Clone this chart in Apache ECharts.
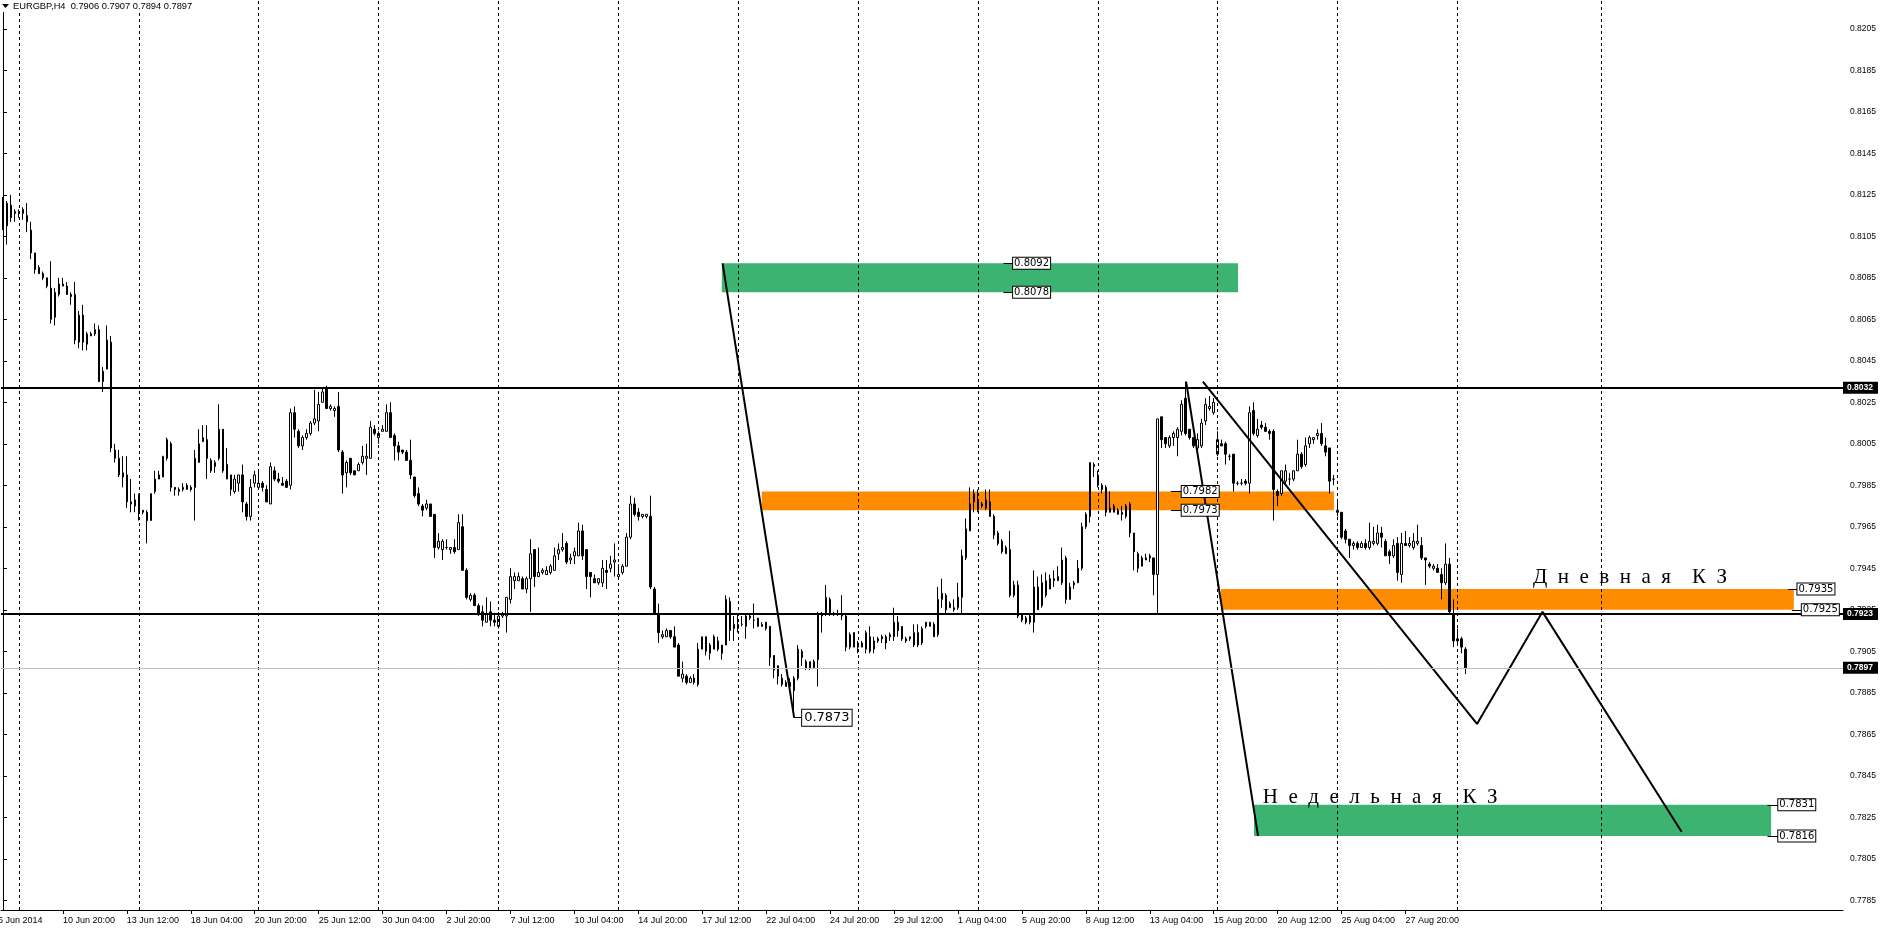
<!DOCTYPE html>
<html>
<head>
<meta charset="utf-8">
<title>EURGBP,H4</title>
<script src="https://cdn.jsdelivr.net/npm/echarts@6.0.0/dist/echarts.min.js"></script>
<style>
  html, body { margin: 0; padding: 0; background: #fff; }
  #chart { width: 1885px; height: 932px; }
</style>
</head>
<body>
<div id="chart"></div>
<script>
// ---- data ----
const symbolName = 'EURGBP,H4';
const firstBar = Date.UTC(2014, 5, 6, 8, 0);   // first visible H4 bar
const slots = 461;                              // bar slots in the window (incl. empty future)

// H4 bars per trading week, [open, high, low, close]
const wkJun06 = [
  [0.8122,0.8124,0.8108,0.8111],[0.8110,0.8122,0.8101,0.8121],[0.8120,0.8125,0.8112,0.8114],[0.8116,0.8118,0.8112,0.8117]
];
const wkJun09 = [
  [0.8116,0.8118,0.8114,0.8117],[0.8116,0.8119,0.8113,0.8118],[0.8115,0.8121,0.8107,0.8112],[0.8108,0.8112,0.8094,0.8097],
  [0.8097,0.8097,0.8087,0.8089],[0.8090,0.8091,0.8087,0.8087],[0.8087,0.8088,0.8084,0.8085],[0.8085,0.8085,0.8080,0.8081],
  [0.8080,0.8093,0.8063,0.8065],[0.8066,0.8080,0.8062,0.8078],[0.8077,0.8085,0.8076,0.8082],[0.8081,0.8085,0.8081,0.8082],
  [0.8081,0.8083,0.8077,0.8077],[0.8077,0.8078,0.8072,0.8076],[0.8077,0.8083,0.8053,0.8055],[0.8054,0.8069,0.8051,0.8067],
  [0.8067,0.8072,0.8050,0.8054],[0.8053,0.8059,0.8050,0.8058],[0.8057,0.8059,0.8057,0.8058],[0.8060,0.8063,0.8057,0.8058],
  [0.8060,0.8062,0.8035,0.8035],[0.8035,0.8042,0.8030,0.8040],[0.8041,0.8062,0.8041,0.8055],[0.8054,0.8057,0.8001,0.8003],
  [0.8002,0.8005,0.7996,0.7998],[0.7998,0.8002,0.7989,0.7990],[0.7991,0.7999,0.7984,0.7989],[0.7990,0.7999,0.7974,0.7977],
  [0.7976,0.7988,0.7972,0.7977],[0.7975,0.7981,0.7972,0.7978]
];
const wkJun16 = [
  [0.7980,0.7981,0.7968,0.7972],[0.7972,0.7973,0.7971,0.7973],[0.7972,0.7973,0.7957,0.7968],[0.7968,0.7981,0.7968,0.7981],
  [0.7982,0.7992,0.7981,0.7988],[0.7988,0.7992,0.7988,0.7990],[0.7989,0.7999,0.7989,0.7999],[0.7998,0.8008,0.7997,0.8007],
  [0.8005,0.8006,0.7982,0.7984],[0.7984,0.7984,0.7980,0.7983],[0.7982,0.7984,0.7980,0.7983],[0.7983,0.7986,0.7982,0.7984],
  [0.7985,0.7986,0.7983,0.7983],[0.7984,0.7985,0.7982,0.7983],[0.7984,0.8002,0.7968,0.7998],[0.7996,0.8012,0.7996,0.8005],
  [0.8006,0.8014,0.8006,0.8008],[0.8007,0.8014,0.7988,0.7998],[0.7997,0.7998,0.7991,0.7992],[0.7994,0.7997,0.7991,0.7996],
  [0.7998,0.8024,0.7997,0.8012],[0.8012,0.8012,0.7991,0.7992],[0.7995,0.8003,0.7988,0.7988],[0.7990,0.7990,0.7980,0.7983],
  [0.7982,0.7990,0.7981,0.7988],[0.7986,0.7990,0.7982,0.7990],[0.7990,0.7995,0.7972,0.7977],[0.7976,0.7977,0.7968,0.7970],
  [0.7970,0.7988,0.7968,0.7984],[0.7986,0.7992,0.7984,0.7990]
];
const wkJun23 = [
  [0.7984,0.7992,0.7984,0.7986],[0.7986,0.7987,0.7982,0.7984],[0.7983,0.7985,0.7977,0.7977],[0.7976,0.7996,0.7976,0.7994],
  [0.7992,0.7994,0.7987,0.7988],[0.7988,0.7991,0.7986,0.7987],[0.7986,0.7989,0.7985,0.7985],[0.7987,0.7988,0.7984,0.7984],
  [0.7985,0.8022,0.7983,0.8020],[0.8020,0.8023,0.8008,0.8012],[0.8011,0.8012,0.8003,0.8004],[0.8004,0.8009,0.8002,0.8008],
  [0.8008,0.8012,0.8007,0.8010],[0.8010,0.8016,0.8009,0.8015],[0.8015,0.8031,0.8014,0.8017],[0.8016,0.8030,0.8011,0.8024],
  [0.8025,0.8032,0.8025,0.8030],[0.8032,0.8033,0.8022,0.8022],[0.8022,0.8024,0.8021,0.8023],[0.8021,0.8023,0.8018,0.8022],
  [0.8023,0.8030,0.8001,0.8002],[0.8001,0.8002,0.7981,0.7990],[0.7991,0.7997,0.7984,0.7996],[0.7998,0.7998,0.7990,0.7991],
  [0.7992,0.7992,0.7990,0.7990],[0.7992,0.7996,0.7992,0.7995],[0.7996,0.8004,0.7995,0.7999],[0.7998,0.8005,0.7990,0.7999],
  [0.7998,0.8016,0.7998,0.8013],[0.8012,0.8014,0.8009,0.8010]
];
const wkJun30 = [
  [0.8008,0.8011,0.8005,0.8010],[0.8011,0.8014,0.8011,0.8012],[0.8011,0.8024,0.8011,0.8020],[0.8020,0.8025,0.8008,0.8008],
  [0.8009,0.8010,0.7997,0.8004],[0.8004,0.8006,0.7997,0.8001],[0.8002,0.8002,0.8000,0.8001],[0.8001,0.8002,0.7997,0.7997],
  [0.7997,0.8007,0.7988,0.7990],[0.7989,0.7989,0.7979,0.7980],[0.7981,0.7984,0.7975,0.7976],[0.7975,0.7976,0.7970,0.7973],
  [0.7974,0.7978,0.7973,0.7976],[0.7976,0.7976,0.7970,0.7970],[0.7971,0.7971,0.7950,0.7955],[0.7955,0.7962,0.7954,0.7958],
  [0.7954,0.7959,0.7949,0.7958],[0.7955,0.7959,0.7954,0.7955],[0.7954,0.7955,0.7952,0.7955],[0.7955,0.7959,0.7952,0.7953],
  [0.7954,0.7971,0.7954,0.7967],[0.7965,0.7971,0.7944,0.7944],[0.7944,0.7945,0.7930,0.7931],[0.7930,0.7933,0.7929,0.7932],
  [0.7932,0.7933,0.7927,0.7927],[0.7927,0.7928,0.7922,0.7923],[0.7924,0.7927,0.7917,0.7920],[0.7919,0.7931,0.7919,0.7923],
  [0.7924,0.7929,0.7917,0.7920],[0.7920,0.7923,0.7917,0.7919]
];
const wkJul07 = [
  [0.7917,0.7924,0.7916,0.7922],[0.7922,0.7924,0.7921,0.7923],[0.7922,0.7931,0.7914,0.7931],[0.7930,0.7945,0.7928,0.7941],
  [0.7939,0.7943,0.7935,0.7941],[0.7939,0.7943,0.7939,0.7941],[0.7940,0.7941,0.7935,0.7935],[0.7935,0.7941,0.7933,0.7940],
  [0.7940,0.7959,0.7924,0.7952],[0.7954,0.7954,0.7936,0.7941],[0.7941,0.7955,0.7941,0.7943],[0.7943,0.7945,0.7942,0.7944],
  [0.7942,0.7946,0.7942,0.7944],[0.7943,0.7947,0.7942,0.7946],[0.7944,0.7955,0.7944,0.7951],[0.7952,0.7957,0.7949,0.7954],
  [0.7954,0.7962,0.7953,0.7955],[0.7957,0.7958,0.7947,0.7948],[0.7949,0.7952,0.7947,0.7950],[0.7951,0.7955,0.7947,0.7953],
  [0.7951,0.7967,0.7951,0.7963],[0.7963,0.7966,0.7949,0.7951],[0.7954,0.7954,0.7935,0.7941],[0.7943,0.7943,0.7931,0.7941],
  [0.7940,0.7942,0.7938,0.7938],[0.7938,0.7940,0.7937,0.7940],[0.7938,0.7949,0.7936,0.7945],[0.7944,0.7949,0.7935,0.7943],
  [0.7945,0.7951,0.7943,0.7947],[0.7948,0.7957,0.7941,0.7949]
];
const wkJul14 = [
  [0.7941,0.7947,0.7941,0.7942],[0.7943,0.7947,0.7942,0.7946],[0.7946,0.7962,0.7946,0.7960],[0.7960,0.7980,0.7959,0.7976],
  [0.7976,0.7979,0.7970,0.7971],[0.7972,0.7974,0.7968,0.7970],[0.7970,0.7971,0.7969,0.7971],[0.7970,0.7971,0.7969,0.7971],
  [0.7970,0.7980,0.7935,0.7936],[0.7935,0.7936,0.7923,0.7923],[0.7923,0.7928,0.7909,0.7914],[0.7912,0.7915,0.7911,0.7913],
  [0.7912,0.7916,0.7912,0.7915],[0.7915,0.7915,0.7911,0.7912],[0.7912,0.7917,0.7907,0.7907],[0.7908,0.7909,0.7893,0.7893],
  [0.7892,0.7900,0.7890,0.7894],[0.7893,0.7894,0.7889,0.7890],[0.7890,0.7893,0.7890,0.7892],[0.7892,0.7894,0.7889,0.7890],
  [0.7889,0.7909,0.7888,0.7906],[0.7906,0.7912,0.7906,0.7912],[0.7912,0.7912,0.7903,0.7905],[0.7904,0.7909,0.7901,0.7908],
  [0.7906,0.7913,0.7906,0.7912],[0.7910,0.7912,0.7905,0.7906],[0.7904,0.7908,0.7901,0.7908],[0.7908,0.7932,0.7908,0.7930],
  [0.7929,0.7931,0.7910,0.7915],[0.7916,0.7922,0.7910,0.7918]
];
const wkJul21 = [
  [0.7916,0.7923,0.7914,0.7918],[0.7918,0.7922,0.7917,0.7918],[0.7917,0.7923,0.7911,0.7922],[0.7921,0.7923,0.7920,0.7922],
  [0.7920,0.7928,0.7916,0.7920],[0.7921,0.7921,0.7917,0.7917],[0.7917,0.7919,0.7917,0.7918],[0.7919,0.7919,0.7915,0.7916],
  [0.7917,0.7917,0.7898,0.7902],[0.7903,0.7903,0.7892,0.7896],[0.7898,0.7898,0.7889,0.7893],[0.7892,0.7894,0.7888,0.7889],
  [0.7888,0.7891,0.7888,0.7890],[0.7890,0.7892,0.7886,0.7888],[0.7886,0.7893,0.7873,0.7892],[0.7892,0.7908,0.7891,0.7906],
  [0.7905,0.7906,0.7898,0.7902],[0.7897,0.7901,0.7896,0.7900],[0.7897,0.7900,0.7896,0.7900],[0.7897,0.7901,0.7897,0.7900],
  [0.7901,0.7924,0.7888,0.7923],[0.7922,0.7924,0.7914,0.7923],[0.7923,0.7937,0.7922,0.7931],[0.7930,0.7931,0.7922,0.7923],
  [0.7923,0.7924,0.7922,0.7923],[0.7923,0.7925,0.7922,0.7923],[0.7923,0.7932,0.7920,0.7922],[0.7922,0.7923,0.7905,0.7907],
  [0.7907,0.7914,0.7906,0.7913],[0.7914,0.7914,0.7907,0.7907]
];
const wkJul28 = [
  [0.7907,0.7910,0.7904,0.7909],[0.7907,0.7910,0.7907,0.7909],[0.7906,0.7915,0.7904,0.7914],[0.7912,0.7917,0.7904,0.7905],
  [0.7906,0.7912,0.7904,0.7910],[0.7910,0.7912,0.7909,0.7911],[0.7911,0.7913,0.7909,0.7912],[0.7909,0.7913,0.7906,0.7912],
  [0.7912,0.7914,0.7910,0.7913],[0.7912,0.7926,0.7910,0.7919],[0.7919,0.7922,0.7912,0.7915],[0.7917,0.7917,0.7910,0.7911],
  [0.7911,0.7912,0.7909,0.7910],[0.7911,0.7912,0.7910,0.7912],[0.7908,0.7918,0.7907,0.7914],[0.7914,0.7918,0.7907,0.7908],
  [0.7909,0.7917,0.7908,0.7916],[0.7917,0.7919,0.7916,0.7919],[0.7917,0.7919,0.7917,0.7919],[0.7918,0.7919,0.7912,0.7912],
  [0.7913,0.7936,0.7912,0.7930],[0.7930,0.7940,0.7926,0.7933],[0.7932,0.7933,0.7923,0.7925],[0.7926,0.7929,0.7926,0.7928],
  [0.7925,0.7930,0.7924,0.7926],[0.7926,0.7938,0.7925,0.7931],[0.7931,0.7954,0.7923,0.7951],[0.7950,0.7969,0.7949,0.7964],
  [0.7963,0.7984,0.7963,0.7976],[0.7977,0.7983,0.7972,0.7981]
];
const wkAug04 = [
  [0.7973,0.7983,0.7972,0.7977],[0.7976,0.7977,0.7974,0.7975],[0.7974,0.7983,0.7973,0.7978],[0.7977,0.7983,0.7970,0.7970],
  [0.7970,0.7971,0.7959,0.7961],[0.7962,0.7963,0.7956,0.7957],[0.7958,0.7959,0.7952,0.7953],[0.7952,0.7956,0.7952,0.7955],
  [0.7954,0.7963,0.7931,0.7932],[0.7932,0.7939,0.7931,0.7937],[0.7937,0.7939,0.7921,0.7922],[0.7923,0.7923,0.7919,0.7920],
  [0.7921,0.7922,0.7918,0.7919],[0.7919,0.7923,0.7918,0.7922],[0.7919,0.7944,0.7914,0.7936],[0.7936,0.7941,0.7925,0.7925],
  [0.7927,0.7942,0.7926,0.7938],[0.7932,0.7943,0.7931,0.7939],[0.7935,0.7942,0.7935,0.7940],[0.7939,0.7944,0.7936,0.7940],
  [0.7939,0.7946,0.7939,0.7941],[0.7938,0.7955,0.7937,0.7949],[0.7950,0.7951,0.7928,0.7930],[0.7930,0.7938,0.7930,0.7936],
  [0.7937,0.7939,0.7935,0.7938],[0.7938,0.7949,0.7938,0.7945],[0.7945,0.7967,0.7944,0.7965],[0.7965,0.7972,0.7964,0.7971],
  [0.7970,0.7996,0.7967,0.7996],[0.7994,0.7996,0.7989,0.7995]
];
const wkAug11 = [
  [0.7990,0.7992,0.7984,0.7985],[0.7985,0.7986,0.7981,0.7983],[0.7984,0.7985,0.7970,0.7972],[0.7974,0.7982,0.7972,0.7972],
  [0.7972,0.7976,0.7972,0.7975],[0.7973,0.7974,0.7971,0.7971],[0.7971,0.7975,0.7968,0.7972],[0.7970,0.7976,0.7969,0.7975],
  [0.7976,0.7977,0.7960,0.7962],[0.7962,0.7962,0.7944,0.7953],[0.7952,0.7953,0.7943,0.7945],[0.7946,0.7951,0.7946,0.7950],
  [0.7950,0.7952,0.7949,0.7949],[0.7950,0.7952,0.7948,0.7951],[0.7950,0.7950,0.7932,0.7942],[0.7942,0.8017,0.7923,0.8017],
  [0.8018,0.8018,0.8003,0.8007],[0.8008,0.8008,0.8003,0.8005],[0.8004,0.8009,0.8003,0.8008],[0.8008,0.8011,0.8004,0.8010],
  [0.8008,0.8013,0.7999,0.8012],[0.8011,0.8026,0.8009,0.8024],[0.8027,0.8035,0.8009,0.8010],[0.8012,0.8012,0.8007,0.8008],
  [0.8008,0.8008,0.8003,0.8004],[0.8003,0.8010,0.8002,0.8007],[0.8004,0.8017,0.8003,0.8015],[0.8016,0.8027,0.8014,0.8024],
  [0.8022,0.8028,0.8021,0.8023],[0.8020,0.8027,0.8019,0.8025]
];
const wkAug18 = [
  [0.8000,0.8011,0.7999,0.8007],[0.8005,0.8007,0.8004,0.8004],[0.8005,0.8006,0.7995,0.8000],[0.7999,0.8000,0.7997,0.7999],
  [0.8000,0.8000,0.7982,0.7986],[0.7986,0.7987,0.7985,0.7986],[0.7986,0.7988,0.7985,0.7986],[0.7987,0.7988,0.7985,0.7986],
  [0.7986,0.8023,0.7981,0.8020],[0.8021,0.8025,0.8009,0.8010],[0.8009,0.8017,0.8008,0.8012],[0.8014,0.8016,0.8012,0.8013],
  [0.8013,0.8015,0.8011,0.8011],[0.8011,0.8012,0.8007,0.8010],[0.8011,0.8012,0.7968,0.7983],[0.7982,0.7983,0.7975,0.7980],
  [0.7981,0.7992,0.7980,0.7992],[0.7987,0.7995,0.7985,0.7992],[0.7988,0.7991,0.7985,0.7988],[0.7988,0.7992,0.7987,0.7992],
  [0.7992,0.8007,0.7992,0.8000],[0.8000,0.8001,0.7993,0.7994],[0.7995,0.8008,0.7994,0.8004],[0.8005,0.8009,0.8003,0.8008],
  [0.8007,0.8008,0.8005,0.8008],[0.8009,0.8012,0.8007,0.8010],[0.8010,0.8015,0.8004,0.8005],[0.8004,0.8008,0.7999,0.8001],
  [0.8003,0.8003,0.7981,0.7987],[0.7988,0.7990,0.7985,0.7988]
];
const wkAug25 = [
  [0.7972,0.7977,0.7970,0.7973],[0.7972,0.7972,0.7959,0.7960],[0.7963,0.7964,0.7957,0.7959],[0.7959,0.7959,0.7950,0.7956],
  [0.7956,0.7958,0.7954,0.7957],[0.7957,0.7958,0.7954,0.7955],[0.7955,0.7958,0.7955,0.7957],[0.7957,0.7959,0.7954,0.7955],
  [0.7955,0.7967,0.7954,0.7958],[0.7957,0.7965,0.7956,0.7958],[0.7957,0.7966,0.7956,0.7962],[0.7962,0.7965,0.7955,0.7960],
  [0.7958,0.7959,0.7951,0.7951],[0.7953,0.7954,0.7947,0.7951],[0.7951,0.7959,0.7950,0.7956],[0.7957,0.7960,0.7939,0.7943],
  [0.7942,0.7962,0.7938,0.7957],[0.7957,0.7963,0.7956,0.7956],[0.7956,0.7960,0.7955,0.7957],[0.7955,0.7962,0.7954,0.7958],
  [0.7957,0.7966,0.7956,0.7958],[0.7956,0.7960,0.7949,0.7950],[0.7950,0.7950,0.7937,0.7949],[0.7947,0.7948,0.7945,0.7946],
  [0.7945,0.7947,0.7944,0.7946],[0.7945,0.7947,0.7943,0.7943],[0.7942,0.7945,0.7930,0.7938],[0.7938,0.7957,0.7937,0.7947],
  [0.7947,0.7950,0.7923,0.7924],[0.7923,0.7930,0.7907,0.7910]
];
const wkSep01 = [
  [0.7911,0.7916,0.7909,0.7910],[0.7911,0.7912,0.7904,0.7907],[0.7906,0.7907,0.7894,0.7897]
];

// price scale
const priceMin = 0.77803;
const priceMax = 0.82189;
const priceTicks = [0.7785,0.7805,0.7825,0.7845,0.7865,0.7885,0.7905,0.7925,0.7945,0.7965,0.7985,
  0.8005,0.8025,0.8045,0.8065,0.8085,0.8105,0.8125,0.8145,0.8165,0.8185,0.8205];

// drawn objects, in [bar, price]
const levels = [0.8032, 0.7923];
const greenZoneUp = [179.9, 309.1, 0.8092, 0.8078];     // [fromBar, toBar, top, bottom]
const orangeZoneUp = [189.9, 333.1, 0.7982, 0.7973];
const dailyZone = [304.8, 448.2, 0.7935, 0.7925];
const weeklyZone = [313.1, 442.5, 0.7831, 0.7816];
const trendA = [[180.1, 0.8092], [198.0, 0.7873]];
const trendB = [[296.1, 0.8035], [314.1, 0.7816]];
const zigzag = [[300.3, 0.8035], [368.9, 0.7870], [385.3, 0.7924], [420.1, 0.7818]];
const priceTags = [ // [fromBar, toBar, price]
  [250.4, 252.8, 0.8092], [250.4, 252.8, 0.8078],
  [292.3, 295.0, 0.7982], [292.3, 295.0, 0.7973],
  [446.8, 449.1, 0.7935], [447.7, 450.2, 0.7925],
  [441.6, 444.3, 0.7831], [441.6, 444.3, 0.7816]
];
const lowTag = [198.0, 200.0, 0.7873];
const dailyText = ['Д  н  е  в  н  а  я    К  З', 382.9, 0.79408];
const weeklyText = ['Н  е  д  е  л  ь  н  а  я    К  З', 315.3, 0.78343];
const futureGridBars = [400];

// ---- build ----
const bars = [].concat(wkJun06, wkJun09, wkJun16, wkJun23, wkJun30, wkJul07, wkJul14,
  wkJul21, wkJul28, wkAug04, wkAug11, wkAug18, wkAug25, wkSep01);
const last = bars[bars.length - 1];

const MON = ['Jan','Feb','Mar','Apr','May','Jun','Jul','Aug','Sep','Oct','Nov','Dec'];
const times = [];
for (let t = firstBar; times.length < slots; t += 4 * 3600 * 1000) {
  const wd = new Date(t).getUTCDay();
  if (wd !== 0 && wd !== 6) times.push(t);
}
const fmtTime = t => {
  const d = new Date(t);
  return d.getUTCDate() + ' ' + MON[d.getUTCMonth()] + ' ' + String(d.getUTCHours()).padStart(2, '0') + ':00';
};
const cats = times.map(fmtTime);
const isLabel = i => i >= 15 && (i - 15) % 16 === 0 && i < bars.length;
const weekStarts = [];
times.forEach((t, i) => {
  const d = new Date(t);
  if (i < bars.length && d.getUTCDay() === 1 && d.getUTCHours() === 0) weekStarts.push(i);
});

const GREEN = '#3cb371';
const ORANGE = '#ff8c00';
const zone = (z, color) => [{ coord: [z[0], z[2]], itemStyle: { color: color, opacity: 1 } }, { coord: [z[1], z[3]] }];
const tagLabel = {
  show: true, position: 'end', distance: 0, color: '#000',
  fontFamily: 'DejaVu Sans', fontSize: 10, backgroundColor: '#fff',
  borderColor: '#000', borderWidth: 1, padding: [1, 1, 0, 1]
};
const axisTag = (p, lineColor, lineWidth) => ({
  yAxis: p,
  lineStyle: { color: lineColor, width: lineWidth, type: 'solid' },
  label: {
    show: true, position: 'end', distance: 0, formatter: p.toFixed(4),
    color: '#fff', backgroundColor: '#000', fontFamily: 'Liberation Sans',
    fontSize: 8.5, fontWeight: 'bold', padding: [2, 5, 1, 4]
  }
});

const chart = echarts.init(document.getElementById('chart'));

const option = {
  animation: false,
  backgroundColor: '#fff',
  grid: { left: 1, right: 42, top: 0, bottom: 22, containLabel: false },
  xAxis: [{
    type: 'category',
    data: cats,
    boundaryGap: true,
    axisLine: { lineStyle: { color: '#000', width: 1 } },
    axisTick: { show: true, interval: isLabel, alignWithLabel: true, length: 4, lineStyle: { color: '#000' } },
    axisLabel: {
      interval: isLabel, align: 'left', margin: 6,
      color: '#000', fontFamily: 'Liberation Sans', fontSize: 9
    },
    splitLine: { show: false }
  }, {
    type: 'value', min: -0.5, max: slots - 0.5, show: false
  }],
  yAxis: {
    type: 'value', position: 'right', min: priceMin, max: priceMax, scale: true,
    axisLine: { show: true, lineStyle: { color: '#000', width: 1 } },
    axisTick: { show: true, customValues: priceTicks, length: 4, lineStyle: { color: '#000' } },
    axisLabel: {
      customValues: priceTicks, formatter: v => v.toFixed(4), margin: 7,
      color: '#000', fontFamily: 'Liberation Sans', fontSize: 8.5
    },
    splitLine: { show: false }
  },
  series: [
    {
      name: 'grid', type: 'line', xAxisIndex: 1, data: [], z: 0, silent: true,
      markLine: {
        silent: true, animation: false, symbol: ['none', 'none'], precision: 5,
        label: { show: false },
        lineStyle: { color: '#000', width: 1, type: [3, 3] },
        data: weekStarts.concat(futureGridBars).map(i => ({ xAxis: i }))
      }
    },
    {
      name: 'zones', type: 'line', xAxisIndex: 1, data: [], z: 1, silent: true,
      markArea: {
        silent: true, animation: false,
        data: [zone(greenZoneUp, GREEN), zone(orangeZoneUp, ORANGE), zone(dailyZone, ORANGE), zone(weeklyZone, GREEN)]
      }
    },
    {
      name: symbolName, type: 'candlestick', xAxisIndex: 0, z: 2, silent: true,
      barWidth: 2,
      data: bars.map(b => [b[0], b[3], b[2], b[1]]),
      itemStyle: { color: '#fff', color0: '#000', borderColor: '#000', borderColor0: '#000', borderWidth: 1 }
    },
    {
      name: 'tags', type: 'line', xAxisIndex: 1, data: [], z: 3, silent: true,
      markLine: {
        silent: true, animation: false, symbol: ['none', 'none'], precision: 5,
        data: [
          axisTag(last[3], '#c0c0c0', 1),
          axisTag(levels[0], '#000', 2),
          axisTag(levels[1], '#000', 2)
        ].concat(priceTags.map(t => [
          { coord: [t[0], t[2]], lineStyle: { color: '#000', width: 1, type: 'solid' },
            label: Object.assign({}, tagLabel, { formatter: t[2].toFixed(4) }) },
          { coord: [t[1], t[2]] }
        ]), [[
          { coord: [lowTag[0], lowTag[2]], lineStyle: { color: '#000', width: 1, type: 'solid' },
            label: Object.assign({}, tagLabel, { formatter: lowTag[2].toFixed(4), fontSize: 13, padding: [2, 2, 1, 2] }) },
          { coord: [lowTag[1], lowTag[2]] }
        ]])
      }
    },
    {
      name: 'trendA', type: 'line', xAxisIndex: 1, data: trendA, z: 4, silent: true,
      symbol: 'none', lineStyle: { color: '#000', width: 2 }
    },
    {
      name: 'trendB', type: 'line', xAxisIndex: 1, data: trendB, z: 4, silent: true,
      symbol: 'none', lineStyle: { color: '#000', width: 2 }
    },
    {
      name: 'zigzag', type: 'line', xAxisIndex: 1, data: zigzag, z: 4, silent: true,
      symbol: 'none', lineStyle: { color: '#000', width: 2 }
    }
  ]
};
chart.setOption(option);

// text objects placed at chart coordinates
const at = (x, p) => chart.convertToPixel({ seriesIndex: 4 }, [x, p]);
const dPos = at(dailyText[1], dailyText[2]);
const wPos = at(weeklyText[1], weeklyText[2]);
const serifText = (txt, pos) => ({
  type: 'text', x: pos[0], y: pos[1], z: 10, silent: true,
  style: { text: txt, fill: '#000', fontFamily: 'Liberation Serif', fontSize: 21, align: 'left', verticalAlign: 'middle' }
});
const d0 = new Date(firstBar);

chart.setOption({
  graphic: [
    { type: 'rect', z: 9, silent: true, shape: { x: 0, y: 0, width: 196, height: 12 }, style: { fill: '#fff' } },
    { type: 'polygon', z: 10, silent: true, shape: { points: [[2, 4], [9, 4], [5.5, 8]] }, style: { fill: '#000' } },
    {
      type: 'text', x: 13, y: 6.5, z: 10, silent: true,
      style: {
        text: symbolName + '  ' + last.map(v => v.toFixed(4)).join(' '),
        fill: '#000', fontFamily: 'Liberation Sans', fontSize: 9.3, align: 'left', verticalAlign: 'middle'
      }
    },
    {
      type: 'text', x: -2, y: 921, z: 10, silent: true,
      style: {
        text: d0.getUTCDate() + ' ' + MON[d0.getUTCMonth()] + ' ' + d0.getUTCFullYear(),
        fill: '#000', fontFamily: 'Liberation Sans', fontSize: 9, align: 'left', verticalAlign: 'middle'
      }
    },
    serifText(dailyText[0], dPos),
    serifText(weeklyText[0], wPos)
  ]
});

window.onresize = () => { chart.resize(); };
</script>
</body>
</html>
